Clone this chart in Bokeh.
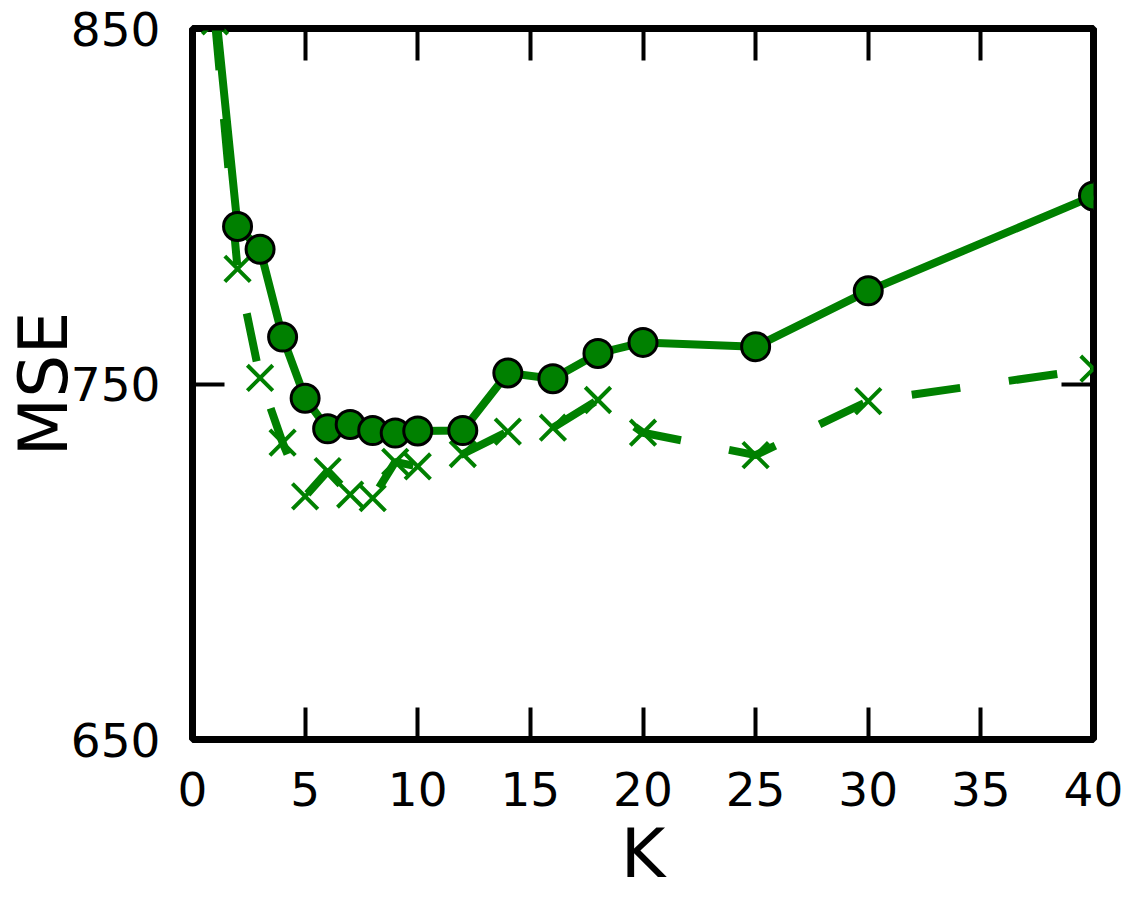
from bokeh.plotting import figure
from bokeh.models import Range1d, FixedTicker, LinearAxis
from bokeh.embed import file_html
from bokeh.resources import INLINE

# ---- data ----
k_values = [1, 2, 3, 4, 5, 6, 7, 8, 9, 10, 12, 14, 16, 18, 20, 25, 30, 40]
mse_solid = [857.0, 794.3, 787.9, 763.2, 746.0, 737.4, 738.6, 736.9, 736.2, 736.8,
             736.9, 753.1, 751.5, 758.6, 761.7, 760.5, 776.2, 802.9]
mse_dashed = [852.0, 782.4, 751.7, 733.5, 718.4, 725.5, 718.9, 717.9, 728.1, 726.8,
              730.3, 736.6, 737.7, 745.5, 736.3, 730.0, 745.2, 754.3]
x_ticks = [0, 5, 10, 15, 20, 25, 30, 35, 40]
y_ticks = [650, 750, 850]

GREEN = "#008000"
FONT = "DejaVu Sans"

p = figure(width=1126, height=896, output_backend="svg", toolbar_location=None,
           x_range=Range1d(0, 40), y_range=Range1d(650, 850),
           min_border_left=191, min_border_right=33, min_border_top=28,
           min_border_bottom=157, x_axis_label="K", y_axis_label="MSE",
           background_fill_color="white", border_fill_color="white")
p.grid.visible = False
p.outline_line_color = "black"
p.outline_line_width = 7

def style_axis(ax, ticks, show_labels):
    ax.ticker = FixedTicker(ticks=ticks)
    ax.axis_line_color = None
    ax.major_tick_in = 32
    ax.major_tick_out = 0
    ax.major_tick_line_width = 4
    ax.major_tick_line_color = "black"
    ax.minor_tick_line_color = None
    ax.major_label_text_font = FONT
    ax.major_label_text_color = "black"
    if show_labels:
        ax.major_label_text_font_size = "47px"
    else:
        ax.major_label_overrides = {t: "" for t in ticks}
        ax.major_label_standoff = 0

for ax in (p.xaxis[0], p.yaxis[0]):
    ax.axis_label_text_font = FONT
    ax.axis_label_text_font_size = "68px"
    ax.axis_label_text_font_style = "normal"
    ax.axis_label_text_color = "black"

xa = p.xaxis[0]
style_axis(xa, x_ticks, True)
xa.major_label_standoff = 32
xa.axis_label_standoff = 5

ya = p.yaxis[0]
style_axis(ya, y_ticks, True)
ya.major_label_standoff = 32
ya.axis_label_standoff = -15

top = LinearAxis()
style_axis(top, x_ticks, False)
p.add_layout(top, "above")
right = LinearAxis()
style_axis(right, y_ticks, False)
p.add_layout(right, "right")

# dashed series with x markers
p.line(k_values, mse_dashed, line_color=GREEN, line_width=8, line_dash="49 49")
p.scatter(k_values, mse_dashed, marker="x", size=36, line_color=GREEN, line_width=4)

# solid series with circles
p.line(k_values, mse_solid, line_color=GREEN, line_width=8)
p.scatter(k_values, mse_solid, marker="circle", size=28, fill_color=GREEN,
          line_color="black", line_width=3)

open("out.html", "w").write(file_html(p, INLINE))
